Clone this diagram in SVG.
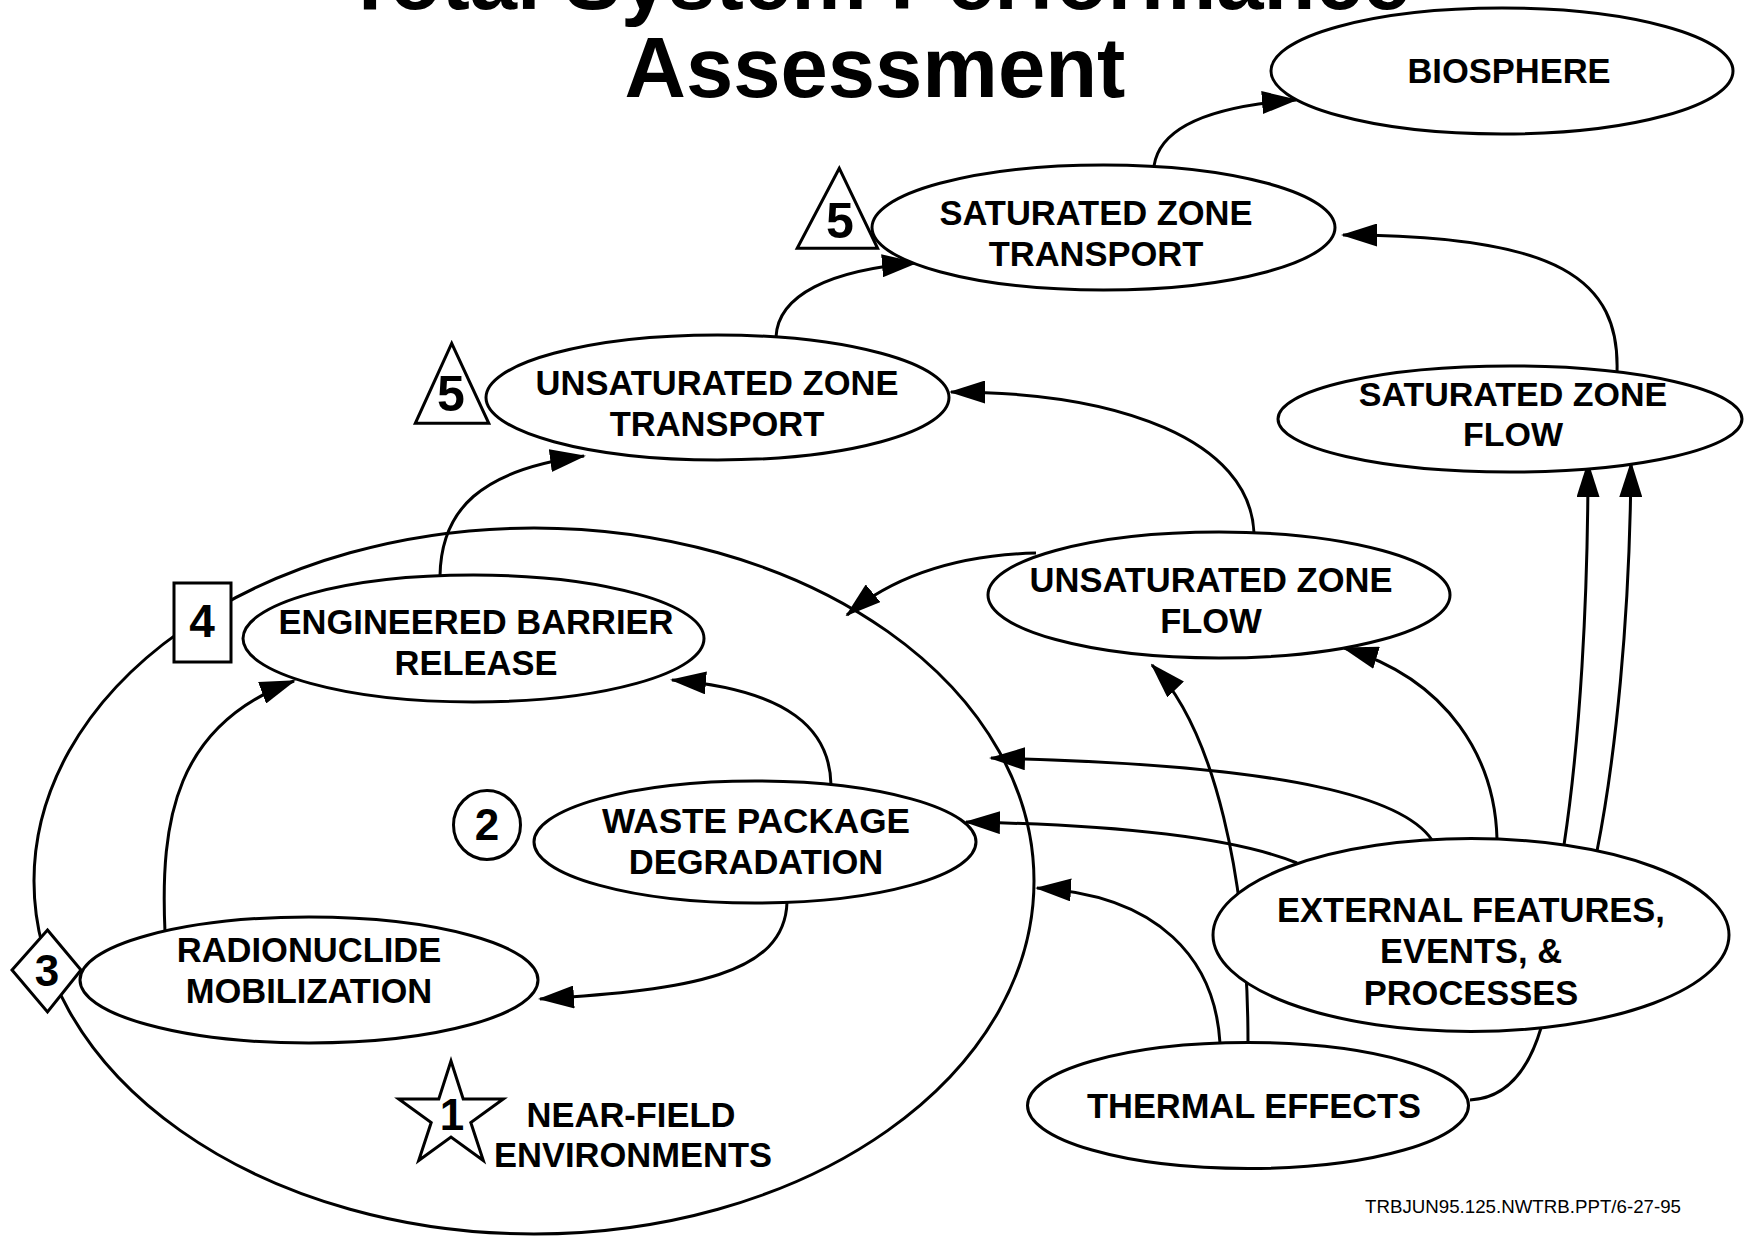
<svg xmlns="http://www.w3.org/2000/svg" width="1748" height="1236" viewBox="0 0 1748 1236">
<defs>
<style>
.node ellipse,.node rect,.node polygon,.node circle{fill:#fff;stroke:#000;stroke-width:3}
.lbl{font-family:"Liberation Sans",Arial,Helvetica,sans-serif;font-weight:bold;font-size:34.5px;text-anchor:middle;fill:#000}
.num{font-family:"Liberation Sans",Arial,Helvetica,sans-serif;font-weight:bold;text-anchor:middle;fill:#000}
.title{font-family:"Liberation Sans",Arial,Helvetica,sans-serif;font-weight:bold;font-size:85px;text-anchor:middle;fill:#000}
.conn path{fill:none;stroke:#000;stroke-width:3}
.big{fill:none;stroke:#000;stroke-width:3}
</style>
<marker id="arr" viewBox="0 0 36 23" refX="34" refY="11.5" markerWidth="36" markerHeight="23" markerUnits="userSpaceOnUse" orient="auto">
<path d="M0,0 L36,11.5 L0,23 z" fill="#000"/>
</marker>
</defs>
<rect x="0" y="0" width="1748" height="1236" fill="#fff"/>

<text class="title" x="877" y="9">Total System Performance</text>
<text class="title" x="875" y="97">Assessment</text>

<g id="near-field-boundary">
<ellipse class="big" cx="534" cy="881" rx="500" ry="353"/>
</g>

<g id="connectors" class="conn">
<path d="M1154,166 C1160,125 1215,106 1296,100" marker-end="url(#arr)"/>
<path d="M776,337 C778,295 830,270 916,263" marker-end="url(#arr)"/>
<path d="M1617,372 C1620,280 1560,235 1343,235" marker-end="url(#arr)"/>
<path d="M440,576 C441,510 480,470 584,456" marker-end="url(#arr)"/>
<path d="M1254,533 C1250,440 1120,392 951,392" marker-end="url(#arr)"/>
<path d="M1036,553 C960,555 895,575 847,615" marker-end="url(#arr)"/>
<path d="M831,785 C830,730 790,690 672,680" marker-end="url(#arr)"/>
<path d="M787,902 C785,975 690,990 540,999" marker-end="url(#arr)"/>
<path d="M165,932 C160,820 175,725 294,681" marker-end="url(#arr)"/>
<path d="M1432,840 C1405,800 1300,765 991,758" marker-end="url(#arr)"/>
<path d="M1297,863 C1240,840 1130,825 966,822" marker-end="url(#arr)"/>
<path d="M1220,1043 C1215,960 1160,895 1037,888" marker-end="url(#arr)"/>
<path d="M1248,1043 C1248,880 1215,730 1152,665" marker-end="url(#arr)"/>
<path d="M1497,839 C1495,760 1450,680 1344,648" marker-end="url(#arr)"/>
<path d="M1564,845 C1580,740 1588,600 1588,463" marker-end="url(#arr)"/>
<path d="M1597,851 C1615,760 1630,620 1631,463" marker-end="url(#arr)"/>
<path d="M1541,1028 C1530,1065 1510,1098 1470,1100"/>
</g>

<g id="biosphere" class="node">
<ellipse cx="1502" cy="71" rx="231" ry="63"/>
<text class="lbl" x="1509" y="83">BIOSPHERE</text>
</g>

<g id="saturated-zone-transport" class="node">
<ellipse cx="1103.5" cy="227.5" rx="231.5" ry="62.5"/>
<text class="lbl" x="1096" y="225">SATURATED ZONE</text>
<text class="lbl" x="1096" y="266">TRANSPORT</text>
</g>
<g id="badge-5-szt" class="node">
<polygon points="839.3,168.3 797.2,248.3 877.6,248.3"/>
<text class="num" x="840" y="238" font-size="50">5</text>
</g>

<g id="unsaturated-zone-transport" class="node">
<ellipse cx="717.5" cy="397.5" rx="231.5" ry="62.5"/>
<text class="lbl" x="717" y="395">UNSATURATED ZONE</text>
<text class="lbl" x="717" y="436">TRANSPORT</text>
</g>
<g id="badge-5-uzt" class="node">
<polygon points="451.7,343.3 415.3,423.3 488.8,423.3"/>
<text class="num" x="451" y="411" font-size="50">5</text>
</g>

<g id="saturated-zone-flow" class="node">
<ellipse cx="1510" cy="419" rx="232" ry="53"/>
<text class="lbl" x="1513" y="406" style="font-size:34px">SATURATED ZONE</text>
<text class="lbl" x="1513" y="446" style="font-size:34px">FLOW</text>
</g>

<g id="unsaturated-zone-flow" class="node">
<ellipse cx="1219" cy="595" rx="231" ry="63"/>
<text class="lbl" x="1211" y="592">UNSATURATED ZONE</text>
<text class="lbl" x="1211" y="633">FLOW</text>
</g>

<g id="engineered-barrier-release" class="node">
<ellipse cx="473.5" cy="638.5" rx="230.5" ry="63.5"/>
<text class="lbl" x="476" y="634">ENGINEERED BARRIER</text>
<text class="lbl" x="476" y="675">RELEASE</text>
</g>
<g id="badge-4" class="node">
<rect x="174" y="583" width="57" height="79"/>
<text class="num" x="202" y="637" font-size="46">4</text>
</g>

<g id="waste-package-degradation" class="node">
<ellipse cx="755" cy="842" rx="221" ry="61"/>
<text class="lbl" x="756" y="833" textLength="308" lengthAdjust="spacingAndGlyphs">WASTE PACKAGE</text>
<text class="lbl" x="756" y="874">DEGRADATION</text>
</g>
<g id="badge-2" class="node">
<ellipse cx="487" cy="825" rx="33.5" ry="34.5"/>
<text class="num" x="487" y="840" font-size="44">2</text>
</g>

<g id="radionuclide-mobilization" class="node">
<ellipse cx="309" cy="980" rx="229" ry="63"/>
<text class="lbl" x="309" y="962">RADIONUCLIDE</text>
<text class="lbl" x="309" y="1003">MOBILIZATION</text>
</g>
<g id="badge-3" class="node">
<polygon points="47.5,930 81,970 47.5,1012 12,970"/>
<text class="num" x="47" y="986" font-size="44">3</text>
</g>

<g id="near-field-environments" class="node">
<polygon points="451,1061 463.2,1099 503.3,1099 470.8,1122.5 483.3,1160.5 451,1137 418.7,1160.5 431.2,1122.5 398.7,1099 438.8,1099"/>
<text class="num" x="452" y="1130" font-size="44">1</text>
<text class="lbl" x="631" y="1127">NEAR-FIELD</text>
<text class="lbl" x="633" y="1167">ENVIRONMENTS</text>
</g>

<g id="external-features" class="node">
<ellipse cx="1471" cy="935" rx="258" ry="96.5"/>
<text class="lbl" x="1471" y="922">EXTERNAL FEATURES,</text>
<text class="lbl" x="1471" y="963">EVENTS, &amp;</text>
<text class="lbl" x="1471" y="1005">PROCESSES</text>
</g>

<g id="thermal-effects" class="node">
<ellipse cx="1248" cy="1105.5" rx="220.5" ry="63"/>
<text class="lbl" x="1254" y="1118" textLength="334" lengthAdjust="spacingAndGlyphs">THERMAL EFFECTS</text>
</g>

<text x="1365" y="1213" font-family="Liberation Sans, Arial, sans-serif" font-size="19" textLength="316" lengthAdjust="spacingAndGlyphs">TRBJUN95.125.NWTRB.PPT/6-27-95</text>
</svg>
